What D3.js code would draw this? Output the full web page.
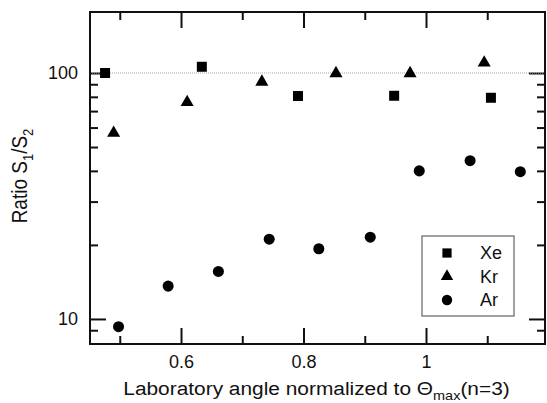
<!DOCTYPE html>
<html>
<head>
<meta charset="utf-8">
<script src="https://cdn.jsdelivr.net/npm/d3@7"></script>
<style>
  body { margin: 0; background: #fff; }
  svg { font-family: 'Liberation Sans', Arial, sans-serif; }
  .axis path.domain { display: none; }
  .axis line { stroke: #111; stroke-width: 2; }
  .axis text { font-size: 18px; fill: #111; }
</style>
</head>
<body>
<svg id="chart" width="547" height="403"></svg>
<script>
// values
const xeAngle = [0.476, 0.634, 0.791, 0.948, 1.106];
const xeRatio = [100, 106, 80.6, 80.8, 79.3];
const krAngle = [0.490, 0.610, 0.732, 0.853, 0.974, 1.095];
const krRatio = [57, 76, 92, 99.6, 99.6, 110];
const arAngle = [0.498, 0.579, 0.661, 0.744, 0.825, 0.909, 0.989, 1.072, 1.154];
const arRatio = [9.3, 13.6, 15.6, 21.1, 19.3, 21.5, 40, 44, 39.7];

const xMajor = [0.6, 0.8, 1];
const xMinor = [0.5, 0.7, 0.9, 1.1];
const yMajor = [10, 100];
const yMinor = [9, 20, 30, 40, 50, 60, 70, 80, 90];
const refLine = 100;

const names = ['Xe', 'Kr', 'Ar'];

const margin = {top: 12, right: 2, bottom: 59, left: 90};
const width = 547 - margin.left - margin.right;
const height = 403 - margin.top - margin.bottom;

const x = d3.scaleLinear().domain([0.4514, 1.1943]).range([0, width]);
const y = d3.scaleLog().domain([7.91, 177]).range([height, 0]);

const svg = d3.select('#chart')
  .append('g')
    .attr('transform', `translate(${margin.left}, ${margin.top})`);

// axes, ticks pointing inward
function addAxis(axis, ticks, size, cls, tr, labels) {
  const a = axis.tickValues(ticks).tickSizeInner(-size).tickSizeOuter(0);
  if (!labels) a.tickFormat('');
  svg.append('g').attr('class', 'axis ' + cls).attr('transform', tr).call(a);
}
addAxis(d3.axisBottom(x).tickPadding(11).tickFormat(d3.format('')), xMajor, 16, 'x', `translate(0,${height})`, true);
addAxis(d3.axisBottom(x), xMinor, 8, 'x', `translate(0,${height})`, false);
addAxis(d3.axisTop(x), xMajor, 16, 'x', 'translate(0,0)', false);
addAxis(d3.axisTop(x), xMinor, 8, 'x', 'translate(0,0)', false);
addAxis(d3.axisLeft(y).tickPadding(12).tickFormat(d3.format('d')), yMajor, 16, 'y', 'translate(0,0)', true);
addAxis(d3.axisLeft(y), yMinor, 8, 'y', 'translate(0,0)', false);
addAxis(d3.axisRight(y), yMajor, 16, 'y', `translate(${width},0)`, false);
addAxis(d3.axisRight(y), yMinor, 8, 'y', `translate(${width},0)`, false);

// dotted reference line at 100
svg.append('line')
  .attr('x1', 0).attr('x2', width)
  .attr('y1', y(refLine)).attr('y2', y(refLine))
  .attr('stroke', '#aaa').attr('stroke-width', 1)
  .attr('stroke-dasharray', '1,1');

// frame
svg.append('rect')
  .attr('width', width).attr('height', height)
  .attr('fill', 'none').attr('stroke', '#111').attr('stroke-width', 2);

const shapes = {
  Xe: d3.symbol().type(d3.symbolSquare).size(100),
  Kr: d3.symbol().type(d3.symbolTriangle).size(74),
  Ar: d3.symbol().type(d3.symbolCircle).size(96)
};

const series = [
  {name: 'Xe', xs: xeAngle, ys: xeRatio},
  {name: 'Kr', xs: krAngle, ys: krRatio},
  {name: 'Ar', xs: arAngle, ys: arRatio}
];

series.forEach(s => {
  svg.append('g').selectAll('path')
    .data(s.xs.map((v, i) => [v, s.ys[i]]))
    .enter().append('path')
      .attr('d', shapes[s.name]())
      .attr('transform', d => `translate(${x(d[0])},${y(d[1])})`)
      .attr('fill', '#000');
});

// legend
const legend = svg.append('g').attr('transform', `translate(${422 - margin.left}, ${236 - margin.top})`);
legend.append('rect')
  .attr('width', 92).attr('height', 80)
  .attr('fill', '#fff').attr('stroke', '#444').attr('stroke-width', 1);
names.forEach((n, i) => {
  legend.append('path')
    .attr('d', shapes[n].size(n === 'Kr' ? 66 : 85)())
    .attr('transform', `translate(25, ${17 + i * 23.5})`)
    .attr('fill', '#000');
  legend.append('text')
    .attr('x', 58).attr('y', 17 + i * 23.5)
    .attr('dy', '0.36em')
    .attr('font-size', 18)
    .attr('fill', '#111')
    .text(n);
});

// axis titles (the original lettering is a little wider than Liberation Sans)
const xt = d3.select('#chart').append('text')
  .attr('transform', 'translate(316.5, 395) scale(1.16, 1)')
  .attr('text-anchor', 'middle')
  .attr('font-size', 18)
  .attr('fill', '#111');
xt.append('tspan').text('Laboratory angle normalized to \u0398');
xt.append('tspan').attr('font-size', 12.5).attr('dy', 5).text('max');
xt.append('tspan').attr('dy', -5).text('(n=3)');

const yt = d3.select('#chart').append('text')
  .attr('transform', 'translate(27, 176) scale(1.12, 1) rotate(-90)')
  .attr('text-anchor', 'middle')
  .attr('font-size', 19)
  .attr('fill', '#111');
yt.append('tspan').text('Ratio S');
yt.append('tspan').attr('font-size', 13).attr('dy', 5).text('1');
yt.append('tspan').attr('dy', -5).text('/S');
yt.append('tspan').attr('font-size', 13).attr('dy', 5).text('2');
</script>
</body>
</html>
